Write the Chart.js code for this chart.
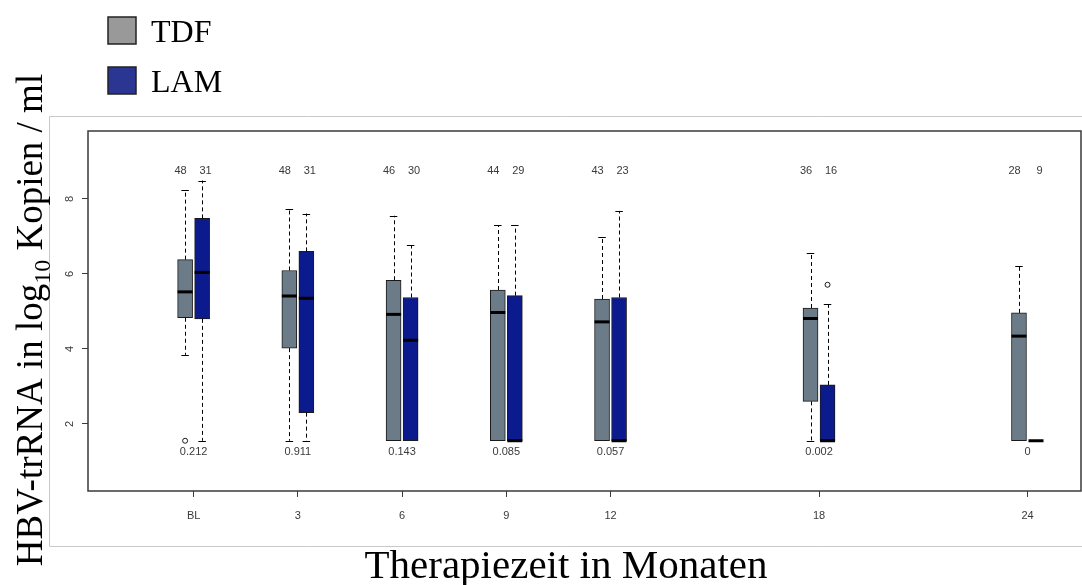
<!DOCTYPE html>
<html>
<head>
<meta charset="utf-8">
<script src="https://cdn.jsdelivr.net/npm/chart.js@4.4.1/dist/chart.umd.min.js"></script>
<style>
  html, body { margin: 0; padding: 0; background: #ffffff; }
  canvas { display: block; }
</style>
</head>
<body>
<canvas id="chart" width="1082" height="585"></canvas>
<script>
// Therapy months and their axis labels
const months = [0, 3, 6, 9, 12, 18, 24];
const monthLabels = ['BL', '3', '6', '9', '12', '18', '24'];

// TDF box statistics (log10 copies / ml)
const tdfLow    = [3.84, 1.55, 1.55, 1.55, 1.55, 1.55, 1.55];
const tdfQ1     = [4.83, 4.02, 1.55, 1.55, 1.55, 2.60, 1.55];
const tdfMedian = [5.52, 5.41, 4.92, 4.97, 4.72, 4.81, 4.34];
const tdfQ3     = [6.38, 6.09, 5.83, 5.57, 5.33, 5.09, 4.96];
const tdfHigh   = [8.23, 7.74, 7.55, 7.30, 6.98, 6.56, 6.20];
const tdfN      = [48, 48, 46, 44, 43, 36, 28];
const tdfOutlierMonths = [0];
const tdfOutlierValues = [1.55];

// LAM box statistics (log10 copies / ml)
const lamLow    = [1.55, 1.55, 1.55, 1.55, 1.55, 1.55, 1.55];
const lamQ1     = [4.80, 2.30, 1.55, 1.55, 1.55, 1.55, 1.55];
const lamMedian = [6.04, 5.35, 4.23, 1.55, 1.55, 1.55, 1.55];
const lamQ3     = [7.48, 6.60, 5.37, 5.42, 5.37, 3.04, 1.55];
const lamHigh   = [8.49, 7.61, 6.77, 7.30, 7.68, 5.19, 1.55];
const lamN      = [31, 31, 30, 29, 23, 16, 9];
const lamOutlierMonths = [18];
const lamOutlierValues = [5.71];

// p-values printed under each pair of boxes
const pValues = ['0.212', '0.911', '0.143', '0.085', '0.057', '0.002', '0'];

// Y axis tick values
const yTicks = [2, 4, 6, 8];

// ---- drawing setup ----
const SHIFT = 0.245;          // half distance between paired boxes, in months
const COUNT_LEVEL = 8.75;     // y value of the n labels
const P_LEVEL = 1.24;         // y value of the p labels
const TICK_FONT = '11px "Liberation Sans", Arial, sans-serif';
const LEGEND_FONT = '32px "Liberation Serif", "Times New Roman", serif';
const XTITLE_FONT = '41px "Liberation Serif", "Times New Roman", serif';
const YTITLE_FONT = '37px "Liberation Serif", "Times New Roman", serif';
const YSUB_FONT = '24px "Liberation Serif", "Times New Roman", serif';

const series = [
  { name: 'TDF', fill: '#6b7c88', legend: '#999999', low: tdfLow, q1: tdfQ1, med: tdfMedian, q3: tdfQ3, high: tdfHigh, dir: -1 },
  { name: 'LAM', fill: '#0b1a8c', legend: '#2b3592', low: lamLow, q1: lamQ1, med: lamMedian, q3: lamQ3, high: lamHigh, dir: 1 }
];

const boxDatasets = series.map(s => ({
  type: 'bar',
  label: s.name,
  data: months.map((m, i) => ({ x: m + s.dir * SHIFT, y: [s.q1[i], s.q3[i]] })),
  backgroundColor: s.fill,
  borderColor: '#1a1a1a',
  borderWidth: 1,
  borderSkipped: false,
  grouped: false,
  categoryPercentage: 1,
  barPercentage: 1,
  maxBarThickness: 15,
  order: 2
}));

const outlierDatasets = [
  { months: tdfOutlierMonths, values: tdfOutlierValues, dir: -1 },
  { months: lamOutlierMonths, values: lamOutlierValues, dir: 1 }
].map(o => ({
  type: 'scatter',
  label: 'outliers',
  data: o.months.map((m, i) => ({ x: m + o.dir * SHIFT, y: o.values[i] })),
  pointStyle: 'circle',
  radius: 2.5,
  borderWidth: 1,
  borderColor: '#1a1a1a',
  backgroundColor: 'rgba(0,0,0,0)',
  order: 1
}));

// whiskers, caps and medians drawn at the bar elements' positions
const boxDecor = {
  id: 'boxDecor',
  afterDatasetsDraw(chart) {
    const ctx = chart.ctx;
    const y = chart.scales.y;
    series.forEach((s, di) => {
      const meta = chart.getDatasetMeta(di);
      meta.data.forEach((el, i) => {
        const cx = el.x;
        const half = el.width / 2;
        ctx.save();
        ctx.strokeStyle = '#000';
        ctx.lineWidth = 1;
        const whisker = (from, to) => {
          ctx.setLineDash([4, 3]);
          ctx.beginPath();
          ctx.moveTo(Math.round(cx) + 0.5, y.getPixelForValue(from));
          ctx.lineTo(Math.round(cx) + 0.5, y.getPixelForValue(to));
          ctx.stroke();
          ctx.setLineDash([]);
          const py = Math.round(y.getPixelForValue(to)) + 0.5;
          ctx.beginPath();
          ctx.moveTo(cx - half / 2, py);
          ctx.lineTo(cx + half / 2, py);
          ctx.stroke();
        };
        if (s.high[i] > s.q3[i]) whisker(s.q3[i], s.high[i]);
        if (s.low[i] < s.q1[i]) whisker(s.q1[i], s.low[i]);
        ctx.lineWidth = 3;
        ctx.beginPath();
        const my = y.getPixelForValue(s.med[i]);
        ctx.moveTo(cx - half, my);
        ctx.lineTo(cx + half, my);
        ctx.stroke();
        ctx.restore();
      });
    });
  }
};

// frame, tick labels on y, n / p annotations, legend and axis titles
const annotations = {
  id: 'annotations',
  afterDraw(chart) {
    const ctx = chart.ctx;
    const a = chart.chartArea;
    const x = chart.scales.x;
    const y = chart.scales.y;
    ctx.save();

    // outer light frame
    ctx.strokeStyle = '#c9c9c9';
    ctx.lineWidth = 1;
    ctx.beginPath();
    ctx.moveTo(1082, 116.5);
    ctx.lineTo(49.5, 116.5);
    ctx.lineTo(49.5, 546.5);
    ctx.lineTo(1082, 546.5);
    ctx.stroke();

    // plot frame
    ctx.strokeStyle = '#3a3a3a';
    ctx.lineWidth = 1.5;
    ctx.strokeRect(a.left, a.top, a.right - a.left, a.bottom - a.top);

    // rotated y tick labels
    ctx.fillStyle = '#3a3a3a';
    ctx.font = TICK_FONT;
    ctx.textAlign = 'center';
    ctx.textBaseline = 'middle';
    y.ticks.forEach(t => {
      ctx.save();
      ctx.translate(70, y.getPixelForValue(t.value));
      ctx.rotate(-Math.PI / 2);
      ctx.fillText(String(t.value), 0, 0);
      ctx.restore();
    });

    // n labels and p labels
    const cy = y.getPixelForValue(COUNT_LEVEL);
    const py = y.getPixelForValue(P_LEVEL);
    months.forEach((m, i) => {
      const px = x.getPixelForValue(m);
      ctx.fillText(String(tdfN[i]), px - 13, cy);
      ctx.fillText(String(lamN[i]), px + 12, cy);
      ctx.fillText(pValues[i], px, py);
    });

    // legend
    ctx.textAlign = 'left';
    ctx.textBaseline = 'alphabetic';
    ctx.font = LEGEND_FONT;
    series.forEach((s, i) => {
      const top = 17 + i * 50;
      ctx.fillStyle = s.legend;
      ctx.fillRect(108, top, 28, 27);
      ctx.strokeStyle = '#222';
      ctx.lineWidth = 1.5;
      ctx.strokeRect(108, top, 28, 27);
      ctx.fillStyle = '#000';
      ctx.fillText(s.name, 151, top + 25);
    });

    // x axis title
    ctx.fillStyle = '#000';
    ctx.textAlign = 'center';
    ctx.font = XTITLE_FONT;
    ctx.fillText('Therapiezeit in Monaten', 566, 578);

    // y axis title with subscript
    const parts = [
      { t: 'HBV-trRNA in log', f: YTITLE_FONT, dy: 0 },
      { t: '10', f: YSUB_FONT, dy: 8 },
      { t: ' Kopien / ml', f: YTITLE_FONT, dy: 0 }
    ];
    let total = 0;
    parts.forEach(p => { ctx.font = p.f; p.w = ctx.measureText(p.t).width; total += p.w; });
    ctx.save();
    ctx.translate(42, 320);
    ctx.rotate(-Math.PI / 2);
    ctx.textAlign = 'left';
    let pos = -total / 2;
    parts.forEach(p => {
      ctx.font = p.f;
      ctx.fillText(p.t, pos, p.dy);
      pos += p.w;
    });
    ctx.restore();

    ctx.restore();
  }
};

new Chart(document.getElementById('chart'), {
  type: 'bar',
  data: { datasets: [...boxDatasets, ...outlierDatasets] },
  options: {
    responsive: false,
    animation: false,
    devicePixelRatio: 1,
    layout: { autoPadding: false, padding: { left: 0, top: 131, right: 1, bottom: 54 } },
    plugins: { legend: { display: false }, tooltip: { enabled: false } },
    scales: {
      x: {
        type: 'linear',
        offset: false,
        min: -3.04,
        max: 25.54,
        afterBuildTicks: s => { s.ticks = months.map(v => ({ value: v })); },
        afterFit: s => { s.height = 40; s.paddingLeft = 0; s.paddingRight = 0; },
        ticks: {
          autoSkip: false,
          maxRotation: 0,
          minRotation: 0,
          padding: 12,
          color: '#3a3a3a',
          font: { family: '"Liberation Sans", Arial, sans-serif', size: 11 },
          callback: v => monthLabels[months.indexOf(v)]
        },
        grid: { offset: false, drawOnChartArea: false, drawTicks: true, tickLength: 6, tickColor: '#3a3a3a', tickWidth: 1 },
        border: { display: false }
      },
      y: {
        type: 'linear',
        min: 0.21,
        max: 9.81,
        afterBuildTicks: s => { s.ticks = yTicks.map(v => ({ value: v })); },
        afterFit: s => { s.width = 88; s.paddingTop = 0; s.paddingBottom = 0; },
        ticks: { display: false },
        grid: { drawOnChartArea: false, drawTicks: true, tickLength: 6, tickColor: '#3a3a3a', tickWidth: 1 },
        border: { display: false }
      }
    }
  },
  plugins: [boxDecor, annotations]
});
</script>
</body>
</html>
